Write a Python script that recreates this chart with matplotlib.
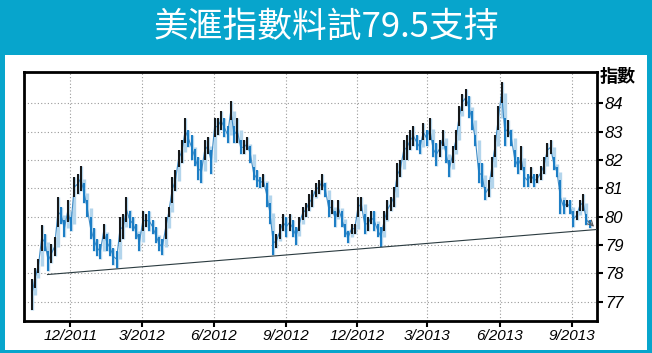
import numpy as np
import pandas as pd
import matplotlib
matplotlib.use('Agg')
import matplotlib.pyplot as plt
import matplotlib.dates as mdates
from matplotlib.patches import Rectangle

TITLE = '美滙指數料試79.5支持'
Y_LABEL = '指數'

# bars roughly every 3 trading days
FIRST_BAR, LAST_BAR = '2011-10-13', '2013-09-24'
bar_high = [
    77.8, 78.2, 78.5, 79.7, 79.4, 78.8, 79.05, 79.3, 80.7, 80.35,
    79.9, 80.6, 80.0, 81.4, 81.5, 81.8, 81.2, 80.6, 80.0, 79.6,
    79.2, 79.05, 79.75, 79.4, 79.2, 78.9, 78.8, 80.0, 80.1, 80.7,
    80.2, 80.0, 79.76, 79.4, 80.2, 80.1, 80.2, 79.9, 79.65, 79.3,
    79.2, 80.0, 80.35, 81.4, 81.65, 82.35, 82.7, 83.5, 83.05, 82.9,
    82.4, 82.1, 82.0, 82.7, 82.8, 82.35, 83.5, 83.5, 83.75, 83.5,
    83.2, 84.1, 83.2, 83.5, 82.7, 82.7, 82.8, 82.5, 81.76, 81.65,
    81.4, 81.5, 81.2, 80.5, 79.5, 79.4, 79.76, 80.1, 80.0, 80.1,
    79.9, 79.65, 80.0, 80.35, 80.5, 80.8, 80.95, 81.2, 81.3, 81.5,
    81.2, 80.6, 80.6, 80.2, 80.6, 80.2, 79.76, 79.5, 79.76, 79.76,
    80.7, 80.7, 80.1, 80.0, 80.2, 80.2, 79.76, 79.65, 80.2, 80.6,
    80.7, 81.05, 81.9, 82.0, 82.7, 82.9, 83.05, 83.2, 82.9, 82.7,
    83.3, 83.05, 83.5, 82.7, 82.6, 82.7, 83.05, 82.5, 82.0, 82.5,
    83.05, 83.9, 84.35, 84.5, 84.25, 83.75, 82.9, 81.9, 81.9, 81.05,
    81.3, 82.1, 82.9, 83.9, 84.75, 83.5, 83.4, 83.05, 82.35, 82.1,
    82.5, 81.76, 81.5, 81.76, 81.5, 81.5, 81.8, 82.1, 82.6, 82.7,
    82.1, 81.76, 81.3, 80.6, 80.6, 80.6, 80.2, 80.2, 80.6, 80.8,
    80.1, 79.9,
]
bar_low = [
    76.7, 77.5, 78.0, 78.8, 78.8, 78.1, 78.35, 78.6, 79.65, 79.76,
    79.3, 79.8, 79.5, 80.7, 80.8, 80.9, 80.5, 80.0, 79.2, 78.8,
    78.6, 78.5, 79.2, 78.8, 78.6, 78.3, 78.2, 79.1, 79.2, 79.8,
    79.6, 79.5, 79.2, 78.8, 79.5, 79.65, 79.5, 79.4, 79.06, 78.8,
    78.65, 79.2, 80.0, 80.5, 80.9, 81.76, 81.9, 82.6, 82.47, 82.0,
    81.8, 81.3, 81.2, 82.0, 82.2, 81.5, 82.8, 82.9, 83.05, 82.8,
    82.6, 83.4, 82.6, 82.6, 82.2, 82.2, 82.35, 81.9, 81.3, 81.05,
    81.0, 81.05, 80.35, 79.76, 78.65, 78.9, 79.2, 79.5, 79.3, 79.5,
    79.3, 79.0, 79.5, 79.9, 80.0, 80.2, 80.35, 80.7, 80.8, 80.95,
    80.7, 80.0, 80.1, 79.65, 80.0, 79.65, 79.3, 79.06, 79.4, 79.4,
    80.0, 80.2, 79.4, 79.5, 79.76, 79.5, 79.3, 78.94, 79.5, 79.9,
    80.2, 80.35, 81.05, 81.4, 82.0, 82.0, 82.35, 82.5, 82.35, 82.2,
    82.7, 82.5, 82.7, 82.1, 81.8, 82.1, 82.5, 81.9, 81.4, 81.9,
    82.35, 83.2, 83.75, 83.9, 83.5, 83.05, 82.5, 81.2, 81.05, 80.6,
    80.7, 81.4, 82.1, 83.05, 84.0, 82.5, 82.8, 82.5, 81.76, 81.5,
    81.65, 81.05, 81.05, 81.2, 81.05, 81.2, 81.3, 81.5, 82.1, 82.2,
    81.65, 81.4, 80.1, 80.1, 80.35, 80.1, 79.65, 79.9, 80.2, 80.2,
    79.7, 79.6,
]

trend_dates = ['2011-11-02', '2013-10-03']
trend_vals = [77.96, 79.55]

tick_dates = ['2011-12-01', '2012-03-01', '2012-06-01', '2012-09-01',
              '2012-12-01', '2013-03-01', '2013-06-01', '2013-09-01']
tick_labels = ['12/2011', '3/2012', '6/2012', '9/2012',
               '12/2012', '3/2013', '6/2013', '9/2013']
y_ticks = [77, 78, 79, 80, 81, 82, 83, 84]

TEAL = '#07a5cc'
DARK = '#141414'
BLUE = '#197cc4'

fig = plt.figure(figsize=(6.52, 3.53), dpi=100)
fig.patch.set_facecolor(TEAL)
fig.patches.append(Rectangle((5 / 652, 3 / 353), 642 / 652, 295 / 353,
                             transform=fig.transFigure, facecolor='white',
                             edgecolor='none', zorder=-1))

ax = fig.add_axes([24 / 652, 32 / 353, 572.7 / 652, 248.7 / 353])
ax.set_facecolor('white')

dates = pd.date_range(FIRST_BAR, LAST_BAR, periods=len(bar_high))
hi = np.array(bar_high)
lo = np.array(bar_low)
mid = (hi + lo) / 2
colors = [DARK if i == 0 or mid[i] >= mid[i - 1] else BLUE for i in range(len(mid))]

# each bar also reaches back to the previous bar's middle so the track stays joined
prev_mid = np.r_[mid[0], mid[:-1]]
lo_j = np.minimum(lo, prev_mid)
hi_j = np.maximum(hi, prev_mid)

ax.vlines(dates, lo_j, hi_j, colors='#b3d5ec', lw=2.4, zorder=2)
ax.plot(dates, mid, color='#3d8bc6', lw=0.8, zorder=2.5)
ax.vlines(dates, lo, hi, colors=colors, lw=1.4, zorder=3)

ax.plot(pd.to_datetime(trend_dates), trend_vals, color='#2b3b40', lw=0.8, zorder=4)
ax.annotate('', xy=(mdates.date2num(pd.Timestamp('2013-10-02')), 79.58),
            xytext=(mdates.date2num(pd.Timestamp('2013-09-20')), 79.92),
            arrowprops=dict(arrowstyle='->', color='#555555', lw=0.7), zorder=5)

ax.set_xlim(pd.Timestamp('2011-10-03'), pd.Timestamp('2013-10-03'))
ax.set_ylim(76.32, 85.1)

ax.yaxis.tick_right()
ax.set_yticks(y_ticks, labels=[str(v) for v in y_ticks],
              fontstyle='italic', family='Liberation Sans', fontsize=12)
ax.set_xticks(pd.to_datetime(tick_dates), labels=tick_labels,
              fontstyle='italic', family='Liberation Sans', fontsize=11)
ax.tick_params(axis='both', direction='out', length=4, width=1.5, color='black', pad=2)

ax.grid(True, linestyle=(0, (1, 2)), color='#9a9a9a', lw=0.8)
for s in ax.spines.values():
    s.set_linewidth(2)
    s.set_color('black')

fig.text(600 / 652, (353 - 77) / 353, Y_LABEL, family='Noto Sans CJK TC',
         fontsize=13, fontweight='bold', ha='left', va='center')
fig.text(0.5, (353 - 27) / 353, TITLE, family='Noto Sans CJK TC',
         fontsize=25, fontweight='light', color='white', ha='center', va='center')

fig.savefig('out.png', dpi=100, facecolor=fig.get_facecolor())
